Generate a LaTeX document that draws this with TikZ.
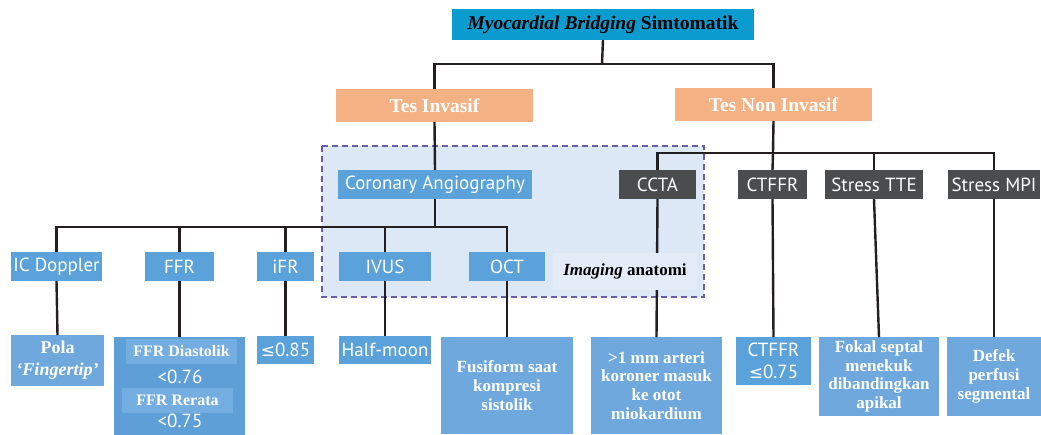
\documentclass[tikz,border=0pt]{standalone}
\usepackage{fontspec}
\setmainfont{Liberation Serif}
\newfontfamily\sansfam{PT Sans}
\newfontfamily\symfam{DejaVu Sans}
\definecolor{topblue}{HTML}{0A9BCF}
\definecolor{peach}{HTML}{F4B183}
\definecolor{midblue}{HTML}{5AA2D9}
\definecolor{lowblue}{HTML}{6FA8DC}
\definecolor{deepblue}{HTML}{5E9FD8}
\definecolor{innerblue}{HTML}{74ADDF}
\definecolor{darkbox}{HTML}{4B4C4E}
\definecolor{framefill}{HTML}{DCE8F5}
\definecolor{labelfill}{HTML}{E3ECF6}
\definecolor{framedash}{HTML}{6A5CA8}
\definecolor{wire}{HTML}{231F20}
\begin{document}
\begin{tikzpicture}[x=1pt,y=-1pt,
  bx/.style={inner sep=0pt, outer sep=0pt, anchor=north west, align=center, text=white},
  sanslbl/.style={font=\sansfam\fontsize{19}{21}\selectfont},
  serifhead/.style={font=\fontsize{19.5}{21}\selectfont\bfseries},
  serifbody/.style={font=\fontsize{17}{18.7}\selectfont\bfseries},
  wirestyle/.style={draw=wire, line width=2.4pt}]
\useasboundingbox (0,0) rectangle (1041,434);
\fill[white] (0,0) rectangle (1041,434);

% imaging group frame
\draw[fill=framefill, draw=framedash, line width=2pt, dash pattern=on 6pt off 4pt] (322,146) rectangle (704,297);

% top
\node[bx, fill=topblue, text=black, minimum width=302, minimum height=31, font=\fontsize{19.5}{21}\selectfont\bfseries] (top) at (452,9) {\textit{Myocardial Bridging} Simtomatik};

% level 1
\node[bx, fill=peach, minimum width=197, minimum height=33, serifhead] (inv) at (336,89) {Tes Invasif};
\node[bx, fill=peach, minimum width=197, minimum height=33, serifhead] (noninv) at (675,88) {Tes Non Invasif};

% level 2
\node[bx, fill=midblue, minimum width=194, minimum height=29, sanslbl] (ca) at (338,170) {Coronary Angiography};
\node[bx, fill=darkbox, minimum width=77, minimum height=29, sanslbl] (ccta) at (619,170) {CCTA};
\node[bx, fill=darkbox, minimum width=69, minimum height=29, sanslbl] (ctffr) at (738,170) {CTFFR};
\node[bx, fill=darkbox, minimum width=98, minimum height=29, sanslbl] (stte) at (825,170) {Stress TTE};
\node[bx, fill=darkbox, minimum width=92, minimum height=29, sanslbl] (smpi) at (948,170) {Stress MPI};

% level 3 (invasive methods)
\node[bx, fill=midblue, minimum width=91, minimum height=29, sanslbl] (icd) at (11,252) {IC Doppler};
\node[bx, fill=midblue, minimum width=69, minimum height=29, sanslbl] (ffr) at (145,252) {FFR};
\node[bx, fill=midblue, minimum width=57, minimum height=29, sanslbl] (ifr) at (257,252) {iFR};
\node[bx, fill=midblue, minimum width=92, minimum height=29, sanslbl] (ivus) at (339,252) {IVUS};
\node[bx, fill=midblue, minimum width=76, minimum height=29, sanslbl] (oct) at (469,252) {OCT};

% level 4 (findings)
\node[bx, fill=lowblue, minimum width=93, minimum height=51, font=\fontsize{18}{22}\selectfont\bfseries] (pola) at (11,335) {Pola\\\textit{`Fingertip'}};
\node[bx, fill=deepblue, minimum width=131, minimum height=100] (ffrv) at (114,337) {};
\node[bx, fill=innerblue, minimum width=111, minimum height=25, font=\fontsize{16}{17}\selectfont\bfseries] (ffrd) at (126,339) {FFR Diastolik};
\node[text=white, inner sep=0pt, sanslbl] (ffrdv) at (180,377) {<0.76};
\node[text=white, inner sep=0pt, sanslbl] (ffrrv) at (180,421) {<0.75};
\node[bx, fill=innerblue, minimum width=111, minimum height=25, font=\fontsize{16}{17}\selectfont\bfseries] (ffrr) at (122,388) {FFR Rerata};
\node[bx, fill=midblue, minimum width=57, minimum height=28, sanslbl] (ifrv) at (257,336) {{\symfam\fontsize{17}{18}\selectfont ≤}0.85};
\node[bx, fill=midblue, minimum width=92, minimum height=28, sanslbl] (half) at (339,336) {Half-moon};
\node[bx, fill=lowblue, minimum width=132, minimum height=97, serifbody] (fus) at (441,337) {Fusiform saat\\kompresi\\sistolik};
\node[bx, fill=lowblue, minimum width=131, minimum height=97, serifbody] (mm) at (591,337) {>1 mm arteri\\koroner masuk\\ke otot\\miokardium};
\node[bx, fill=midblue, minimum width=75, minimum height=48, font=\sansfam\fontsize{19}{22}\selectfont] (ctv) at (736,337) {CTFFR\\{\symfam\fontsize{17}{18}\selectfont ≤}0.75};
\node[bx, fill=lowblue, minimum width=120, minimum height=79, serifbody] (fok) at (819,337) {Fokal septal\\menekuk\\dibandingkan\\apikal};
\node[bx, fill=lowblue, minimum width=94, minimum height=79, serifbody] (def) at (947,337) {Defek\\perfusi\\segmental};

% junction points
\coordinate (jtop) at (602,64);
\coordinate (jnon) at (773,153);
\coordinate (jinv) at (435,227);

% connectors
\draw[wirestyle] (top.south) -- (jtop);
\draw[wirestyle] (inv.north) |- (jtop) -| (noninv.north);
\draw[wirestyle] (inv.south) -- (ca.north);
\draw[wirestyle] (noninv.south) -- (jnon);
\draw[wirestyle] (ccta.north) |- (jnon) -| (smpi.north);
\draw[wirestyle] (jnon) -- (ctffr.north);
\draw[wirestyle] (stte.north) -- (stte.north |- jnon);
\draw[wirestyle] (ca.south) -- (jinv);
\draw[wirestyle] (icd.north) |- (jinv) -| (oct.north);
\draw[wirestyle] (ffr.north) -- (ffr.north |- jinv);
\draw[wirestyle] (ifr.north) -- (ifr.north |- jinv);
\draw[wirestyle] (ivus.north) -- (ivus.north |- jinv);
\draw[wirestyle] (icd.south) -- (pola.north);
\draw[wirestyle] (ffr.south) -- (ffrv.north);
\draw[wirestyle] (ifr.south) -- (ifrv.north);
\draw[wirestyle] (ivus.south) -- (half.north);
\draw[wirestyle] (oct.south) -- (fus.north);
\draw[wirestyle] (ccta.south) -- (mm.north);
\draw[wirestyle] (ctffr.south) -- (ctv.north);
\draw[wirestyle] (stte.south) -- (fok.north);
\draw[wirestyle] (smpi.south) -- (def.north);

% label over the CCTA connector
\node[bx, fill=labelfill, text=black, minimum width=144, minimum height=37, font=\fontsize{17}{18}\selectfont\bfseries] (imglbl) at (553,253) {\textit{Imaging} anatomi};
\end{tikzpicture}
\end{document}
